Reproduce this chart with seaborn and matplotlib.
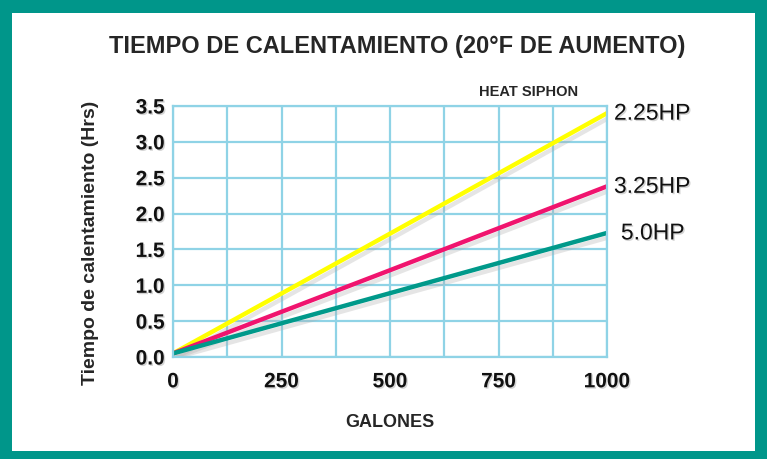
import pandas as pd
import matplotlib.pyplot as plt
import matplotlib.patheffects as pe
from matplotlib.patches import Rectangle
import seaborn as sns

# ---data---
galones = [0, 500, 1000]
hp_225 = [0.05, 1.72, 3.40]
hp_325 = [0.05, 1.21, 2.38]
hp_50 = [0.05, 0.89, 1.73]
series_names = ['2.25HP', '3.25HP', '5.0HP']
series_colors = ['#ffff00', '#f0146e', '#00998a']

df = pd.DataFrame({
    'Galones': galones * 3,
    'Horas': hp_225 + hp_325 + hp_50,
    'Modelo': [n for n in series_names for _ in galones],
})

#---plotting aesthetics---
sns.set_style('white')
plt.rcParams['font.family'] = ['Liberation Sans', 'DejaVu Sans']

fig = plt.figure(figsize=(7.67, 4.60), dpi=100)
# - teal frame
fig.patches.append(Rectangle((0, 0), 1, 1, transform=fig.transFigure, facecolor='#00968a',
    edgecolor='none', zorder=-2))
fig.patches.append(Rectangle((12/767, 8/460), (767-24)/767, (460-8-14)/460, transform=fig.transFigure,
    facecolor='white', edgecolor='none', zorder=-1))

ax = fig.add_axes([173/767, 102/460, 434/767, 251/460])
ax.set_facecolor('none')

shadow = [pe.SimpleLineShadow(offset=(2, -3), shadow_color='#aaaaaa', alpha=0.3), pe.Normal()]
sns.lineplot(data=df, x='Galones', y='Horas', hue='Modelo', palette=series_colors, linewidth=3.2,
    legend=False, ax=ax, path_effects=shadow)

ax.set_xlim(0, 1000)
ax.set_ylim(0, 3.5)
ax.set_xticks(range(0, 1001, 250))
ax.set_xticks(range(0, 1001, 125), minor=True)
ax.set_yticks([i * 0.5 for i in range(8)])
ax.set_yticklabels([f'{i * 0.5:.1f}' for i in range(8)])
ax.grid(True, which='both', color='#8fd3e6', linewidth=1.6)
for s in ax.spines.values():
    s.set_color('#8fd3e6')
    s.set_linewidth(1.6)
ax.tick_params(which='both', length=0)
ax.tick_params(axis='x', pad=11)
ax.tick_params(axis='y', pad=6)
txt_shadow = [pe.withSimplePatchShadow(offset=(1, -1), shadow_rgbFace='#aaaaaa', alpha=0.5)]
for lab in ax.get_xticklabels() + ax.get_yticklabels():
    lab.set_fontsize(15)
    lab.set_fontweight('bold')
    lab.set_color('#111111')
    lab.set_path_effects(txt_shadow)

ax.set_xlabel('GALONES', fontsize=13, fontweight='bold', labelpad=16)
ax.set_ylabel('Tiempo de calentamiento (Hrs)', fontsize=14, fontweight='bold')
ax.yaxis.set_label_coords(-74/434, 0.5 - 10/251)

# - end labels
for name, vals in zip(series_names, [hp_225, hp_325, hp_50]):
    dx = 5 if name != '5.0HP' else 10
    ax.annotate(name, xy=(galones[-1], vals[-1]), xytext=(dx, 0), textcoords='offset points',
        fontsize=16.5, va='center', ha='left', color='#111111', annotation_clip=False,
        path_effects=txt_shadow)

fig.text(529/767, 1 - 92/460, 'HEAT SIPHON', fontsize=10.5, fontweight='bold', ha='center', va='center')
fig.text(397/767, 1 - 47/460, 'TIEMPO DE CALENTAMIENTO (20°F DE AUMENTO)', fontsize=17,
    fontweight='bold', ha='center', va='center')

fig.savefig('out.png', dpi=100)
